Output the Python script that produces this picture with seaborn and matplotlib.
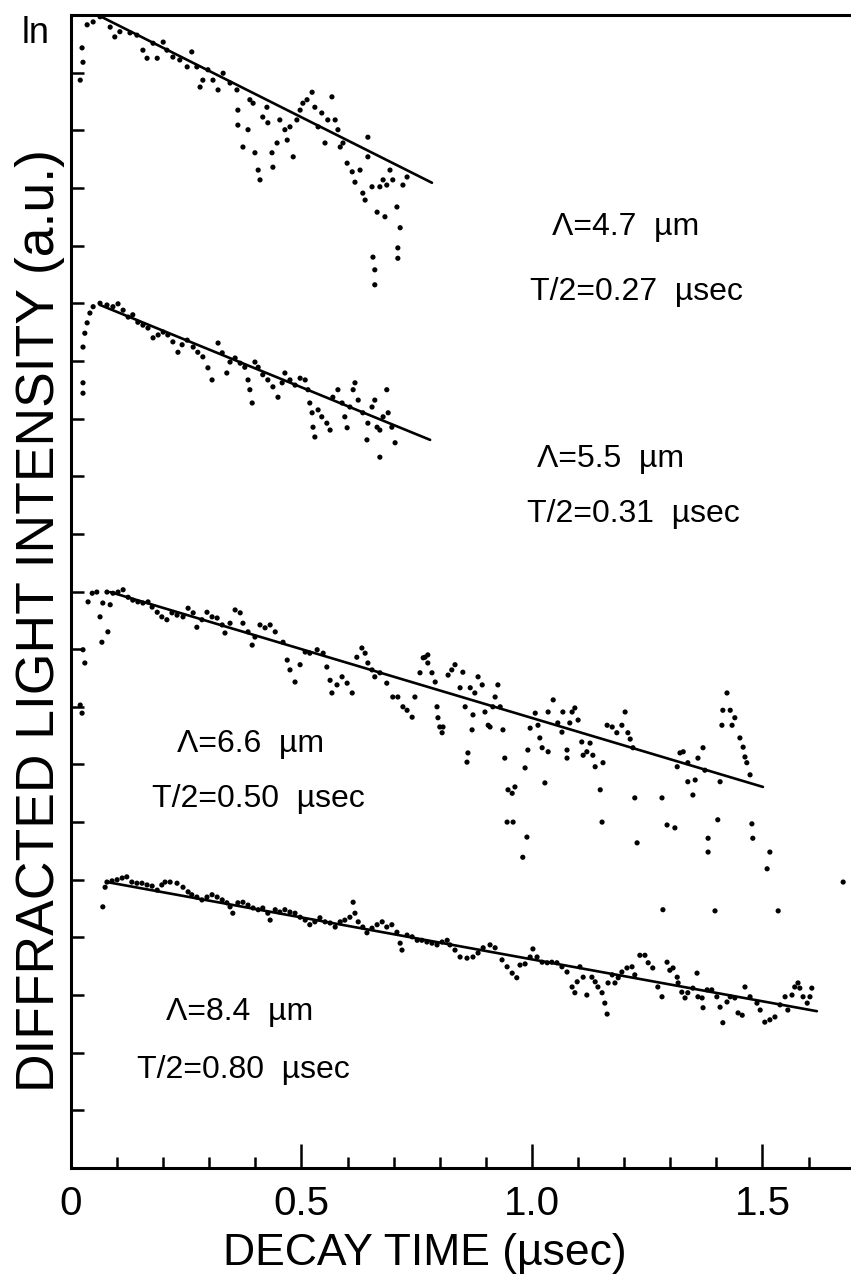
import matplotlib
matplotlib.use("Agg")
import matplotlib.pyplot as plt
import pandas as pd
import seaborn as sns
from matplotlib.ticker import FixedLocator

# ---------------- data (decay time in usec, ln intensity in tick units) -------------
t1 = [0.020,0.024,0.026,0.035,0.048,0.063,0.085,0.095,0.106,0.128,0.143,0.156,0.165,0.178,0.187,
      0.200,0.208,0.221,0.236,0.252,0.262,0.273,0.280,0.286,0.297,0.308,0.319,0.330,0.345,0.360,
      0.362,0.362,0.373,0.384,0.388,0.395,0.399,0.406,0.410,0.416,0.425,0.427,0.436,0.438,0.447,
      0.453,0.464,0.469,0.475,0.482,0.490,0.497,0.503,0.512,0.523,0.529,0.536,0.544,0.551,0.557,
      0.566,0.573,0.579,0.584,0.590,0.599,0.610,0.616,0.627,0.633,0.638,0.644,0.644,0.653,0.655,
      0.659,0.659,0.664,0.670,0.677,0.681,0.685,0.692,0.698,0.707,0.709,0.709,0.714,0.720,0.729]
y1 = [18.87,19.43,19.18,19.83,19.88,19.97,19.79,19.62,19.71,19.69,19.65,19.39,19.25,19.51,19.25,
      19.53,19.39,19.27,19.22,19.10,19.36,19.10,18.75,18.87,19.05,18.87,18.70,18.99,18.82,18.70,
      18.35,18.09,17.71,18.01,18.53,18.47,17.61,17.31,17.14,18.23,18.40,18.13,17.61,17.36,17.78,
      18.18,18.01,17.83,18.06,17.54,18.18,18.35,18.47,18.53,18.66,18.40,18.06,18.30,17.78,18.18,
      18.58,18.18,18.01,17.71,17.78,17.43,17.28,17.10,17.31,16.91,16.79,17.88,17.54,17.02,15.80,
      15.58,15.32,16.58,17.02,17.14,16.50,17.05,17.31,17.14,16.67,15.96,15.78,16.31,17.05,17.19]

t2 = [0.026,0.026,0.026,0.030,0.035,0.041,0.048,0.063,0.078,0.091,0.102,0.113,0.124,0.134,0.145,
      0.156,0.167,0.178,0.189,0.200,0.210,0.221,0.232,0.241,0.252,0.265,0.275,0.286,0.297,0.306,
      0.319,0.328,0.338,0.345,0.356,0.367,0.377,0.384,0.388,0.393,0.399,0.406,0.416,0.427,0.438,
      0.449,0.458,0.464,0.475,0.486,0.497,0.508,0.514,0.518,0.523,0.525,0.529,0.536,0.544,0.555,
      0.562,0.568,0.579,0.588,0.594,0.599,0.605,0.612,0.616,0.623,0.633,0.642,0.644,0.653,0.659,
      0.664,0.670,0.670,0.677,0.685,0.688,0.696,0.703]
y2 = [13.62,13.44,14.24,14.48,14.66,14.83,14.94,15.00,14.97,14.94,14.99,14.88,14.76,14.80,14.67,
      14.62,14.57,14.40,14.45,14.50,14.45,14.33,14.15,14.28,14.36,14.24,14.15,14.07,13.88,13.67,
      14.31,14.14,13.79,13.98,14.05,13.96,13.89,13.67,13.50,13.27,13.98,13.89,13.76,13.67,13.55,
      13.37,13.62,13.79,13.67,13.58,13.70,13.67,13.50,13.27,13.10,12.85,12.68,13.15,13.03,12.92,
      12.80,13.37,13.50,13.27,13.03,12.84,13.20,13.50,13.62,13.32,13.10,12.63,12.92,13.20,13.32,
      12.85,12.80,12.33,13.03,13.50,13.10,12.85,12.58]

t3 = [0.020,0.024,0.026,0.030,0.037,0.046,0.056,0.063,0.067,0.069,0.078,0.080,0.085,0.091,0.102,
      0.113,0.124,0.134,0.145,0.156,0.167,0.176,0.187,0.197,0.208,0.219,0.230,0.243,0.254,0.265,
      0.273,0.284,0.295,0.306,0.317,0.328,0.334,0.345,0.356,0.367,0.373,0.384,0.393,0.399,0.410,
      0.421,0.432,0.443,0.460,0.469,0.475,0.486,0.497,0.508,0.518,0.534,0.547,0.555,0.562,0.566,
      0.577,0.588,0.599,0.610,0.620,0.631,0.638,0.644,0.653,0.659,0.670,0.685,0.698,0.709,0.720,
      0.729,0.740,0.746,0.757,0.768,
      0.764,0.774,0.774,0.783,0.790,0.794,0.796,0.800,0.807,0.805,
      0.818,0.826,0.833,0.844,0.850,0.855,0.859,0.861,0.866,0.870,
      0.872,0.876,0.883,0.892,0.898,0.905,0.909,0.915,0.920,0.926,
      0.931,0.937,0.941,0.948,0.957,0.963,0.946,0.959,0.980,0.989,
      0.985,0.991,0.996,1.007,1.013,1.017,1.022,1.028,1.035,1.035,
      1.046,1.056,1.065,1.067,1.076,1.076,1.082,1.087,1.093,1.100,
      1.108,1.111,1.119,1.126,1.132,1.137,1.148,1.152,1.154,1.163,
      1.174,1.184,1.195,1.202,1.208,1.213,1.219,1.223,1.228,1.282,
      1.293,1.310,1.315,1.321,1.328,1.338,1.338,1.349,1.354,1.360,
      1.371,1.375,1.382,1.382,1.403,1.408,1.412,1.414,1.423,1.430,
      1.434,1.440,1.451,1.458,1.462,1.466,1.473,1.477,1.479,1.510,
      1.516,1.675,1.284,1.397,1.534]
y3 = [8.03,7.89,8.99,8.76,9.82,9.97,9.99,9.56,9.12,9.80,9.99,9.30,9.77,9.97,9.99,
      10.03,9.90,9.85,9.82,9.80,9.82,9.73,9.64,9.56,9.51,9.63,9.59,9.56,9.71,9.63,
      9.38,9.51,9.64,9.56,9.54,9.42,9.28,9.45,9.68,9.63,9.45,9.30,9.07,9.21,9.42,
      9.37,9.42,9.30,9.12,8.81,8.64,8.43,8.73,8.95,8.93,8.99,8.93,8.69,8.46,8.24,
      8.38,8.52,8.41,8.24,8.86,9.02,8.93,8.76,8.64,8.52,8.59,8.41,8.17,8.17,8.00,
      7.94,7.82,8.17,8.59,8.86,
      8.85,8.90,8.76,8.59,8.43,8.00,7.81,7.65,7.65,7.55,
      8.55,8.64,8.73,8.33,8.60,8.00,7.04,7.20,8.33,7.60,
      7.86,8.24,8.52,8.38,7.91,7.68,7.65,8.00,8.17,8.38,
      8.00,7.60,7.11,6.56,6.50,6.61,6.00,6.00,5.39,5.74,
      6.94,7.25,7.63,7.89,7.68,7.46,7.29,6.68,7.22,7.91,
      8.12,7.72,7.56,7.91,7.25,7.11,7.72,7.91,7.98,7.77,
      7.39,7.16,7.22,7.37,7.16,6.96,6.56,6.00,7.03,7.68,
      7.65,7.55,7.68,7.91,7.55,7.44,7.29,6.42,5.64,6.42,
      5.95,5.90,6.96,7.20,7.22,7.03,6.70,6.47,6.73,7.11,
      7.29,6.90,5.72,5.48,6.04,6.70,7.68,7.94,8.24,7.94,
      7.68,7.81,7.46,7.30,7.13,7.03,6.82,5.97,5.72,5.19,
      5.48,4.96,4.48,4.46,4.46]

t4 = [0.069,0.074,0.078,0.089,0.100,0.111,0.121,0.132,0.143,0.154,
      0.165,0.176,0.187,0.197,0.204,0.215,0.230,0.243,0.254,0.262,
      0.273,0.284,0.295,0.306,0.317,0.328,0.338,0.345,0.351,0.362,
      0.373,0.384,0.395,0.406,0.416,0.427,0.432,0.443,0.453,0.464,
      0.475,0.486,0.497,0.508,0.518,0.529,0.540,0.551,0.562,0.573,
      0.584,0.594,0.605,0.612,0.616,0.623,0.633,0.642,0.653,0.664,
      0.675,0.685,0.696,0.707,0.714,0.718,0.729,0.740,0.751,0.761,
      0.772,0.783,0.794,0.805,0.816,0.822,0.833,0.844,0.859,0.872,
      0.883,0.894,0.909,0.920,0.935,0.946,0.957,0.967,0.974,0.985,
      0.996,1.002,1.011,1.022,1.033,1.043,1.054,1.065,1.076,1.087,
      1.093,1.098,1.104,1.111,1.119,1.130,1.137,1.143,1.152,1.158,
      1.163,1.165,1.174,1.180,1.187,1.195,1.206,1.217,1.223,1.234,
      1.245,1.252,1.262,1.273,1.282,1.293,1.299,1.306,1.315,1.317,
      1.325,1.332,1.338,1.349,1.358,1.360,1.369,1.371,1.380,1.390,
      1.401,1.408,1.414,1.423,1.430,1.440,1.447,1.456,1.462,1.473,
      1.488,1.495,1.505,1.516,1.527,1.538,1.549,1.555,1.564,1.570,
      1.577,1.581,1.588,1.597,1.603,1.607]
y4 = [4.53,4.87,4.96,4.98,5.00,5.03,5.05,4.96,4.94,4.94,
      4.91,4.89,4.82,4.91,4.96,4.96,4.94,4.87,4.79,4.74,
      4.70,4.65,4.70,4.74,4.70,4.65,4.60,4.53,4.42,4.60,
      4.61,4.56,4.51,4.48,4.51,4.42,4.30,4.48,4.44,4.48,
      4.44,4.42,4.35,4.30,4.22,4.27,4.34,4.27,4.25,4.18,
      4.27,4.30,4.35,4.61,4.42,4.27,4.18,4.08,4.16,4.22,
      4.27,4.18,4.22,4.09,3.90,3.78,4.04,4.01,3.95,3.95,
      3.92,3.90,3.87,3.92,3.95,3.87,3.78,3.66,3.64,3.66,
      3.73,3.82,3.87,3.82,3.61,3.49,3.38,3.30,3.52,3.54,
      3.66,3.80,3.66,3.57,3.56,3.57,3.56,3.49,3.40,3.14,
      3.04,3.23,3.49,3.31,3.00,3.31,3.23,3.14,3.04,2.86,
      2.67,3.21,3.35,3.21,3.30,3.40,3.47,3.49,3.35,3.69,
      3.69,3.56,3.47,3.14,2.97,3.57,3.43,3.47,3.31,3.21,
      3.05,2.95,3.04,3.12,3.38,2.97,2.95,2.78,3.09,3.09,
      2.97,2.79,2.52,2.88,2.97,2.95,2.69,2.65,3.14,2.97,
      2.86,2.74,2.53,2.57,2.62,2.83,2.97,2.74,3.00,3.14,
      3.21,3.12,2.97,2.86,2.97,3.12]

# fitted straight lines (end points)
fit1_t = [0.063, 0.783]; fit1_y = [19.98, 17.09]
fit2_t = [0.063, 0.779]; fit2_y = [14.97, 12.63]
fit3_t = [0.085, 1.501]; fit3_y = [9.99, 6.61]
fit4_t = [0.078, 1.618]; fit4_y = [4.96, 2.72]

grating_labels = ["\u039b=4.7  \u00b5m", "\u039b=5.5  \u00b5m", "\u039b=6.6  \u00b5m", "\u039b=8.4  \u00b5m"]
time_labels = ["T/2=0.27  \u00b5sec", "T/2=0.31  \u00b5sec", "T/2=0.50  \u00b5sec", "T/2=0.80  \u00b5sec"]

x_major = [0.0, 0.5, 1.0, 1.5]
x_major_labels = ["0", "0.5", "1.0", "1.5"]
x_minor = [0.1,0.2,0.3,0.4,0.6,0.7,0.8,0.9,1.1,1.2,1.3,1.4,1.6]
y_ticks = list(range(0, 21))

# ---------------- figure ---------------------------------------------------------
sns.set_theme(style="ticks")
plt.rcParams['font.family'] = ['Liberation Sans', 'DejaVu Sans']
plt.rcParams['text.color'] = 'black'
plt.rcParams['axes.labelcolor'] = 'black'
plt.rcParams['xtick.color'] = 'black'
plt.rcParams['ytick.color'] = 'black'

W, H = 851, 1282
fig = plt.figure(figsize=(W / 100, H / 100), dpi=100)
ax = fig.add_axes([71 / W, 114 / H, 780 / W, 1153 / H])

series = [(t1, y1), (t2, y2), (t3, y3), (t4, y4)]
for tt, yy in series:
    df = pd.DataFrame({"t": tt, "y": yy})
    sns.scatterplot(data=df, x="t", y="y", s=14, color="black", edgecolor="none",
                    linewidth=0, ax=ax, legend=False, zorder=3)

fits = [(fit1_t, fit1_y), (fit2_t, fit2_y), (fit3_t, fit3_y), (fit4_t, fit4_y)]
for ft, fy in fits:
    sns.lineplot(x=ft, y=fy, color="black", linewidth=1.9, estimator=None, ax=ax,
                 legend=False, zorder=2)

ax.set_xlim(0, 1.692)
ax.set_ylim(0, 20)

for side in ["left", "bottom", "top"]:
    ax.spines[side].set_linewidth(2.2)
    ax.spines[side].set_color("black")
ax.spines["right"].set_visible(False)

ax.xaxis.set_major_locator(FixedLocator(x_major))
ax.set_xticklabels(x_major_labels)
ax.xaxis.set_minor_locator(FixedLocator(x_minor))
ax.tick_params(axis="x", which="major", direction="in", length=17, width=1.8,
               labelsize=29, pad=12, top=False, colors="black")
ax.tick_params(axis="x", which="minor", direction="in", length=8, width=1.8, top=False,
               colors="black")
ax.set_yticks(y_ticks)
ax.tick_params(axis="y", which="major", direction="in", length=9, width=1.8,
               labelleft=False, right=False, colors="black")

ax.set_xlabel("DECAY TIME (\u00b5sec)", fontsize=32, color="black")
ax.xaxis.set_label_coords(0.454, -0.056)
ax.xaxis.label.set_va("top")
ax.set_ylabel("DIFFRACTED LIGHT INTENSITY (a.u.)", fontsize=38.5, color="black")
ax.yaxis.label.set_va("center")
ax.yaxis.set_label_coords(-0.040, 0.475)

fig.text(36 / W, 1 - 43 / H, "ln", fontsize=26, ha="center", va="baseline", color="black")

# annotation positions (data coordinates, left edge / baseline)
lam_pos = [(1.043, 16.18), (1.011, 12.16), (0.230, 7.22), (0.206, 2.57)]
tau_pos = [(0.996, 15.06), (0.989, 11.21), (0.176, 6.26), (0.143, 1.56)]
for lab, (x, y) in zip(grating_labels, lam_pos):
    ax.text(x, y, lab, fontsize=23, ha="left", va="baseline", color="black")
for lab, (x, y) in zip(time_labels, tau_pos):
    ax.text(x, y, lab, fontsize=23, ha="left", va="baseline", color="black")

fig.savefig("out.png", dpi=100)
